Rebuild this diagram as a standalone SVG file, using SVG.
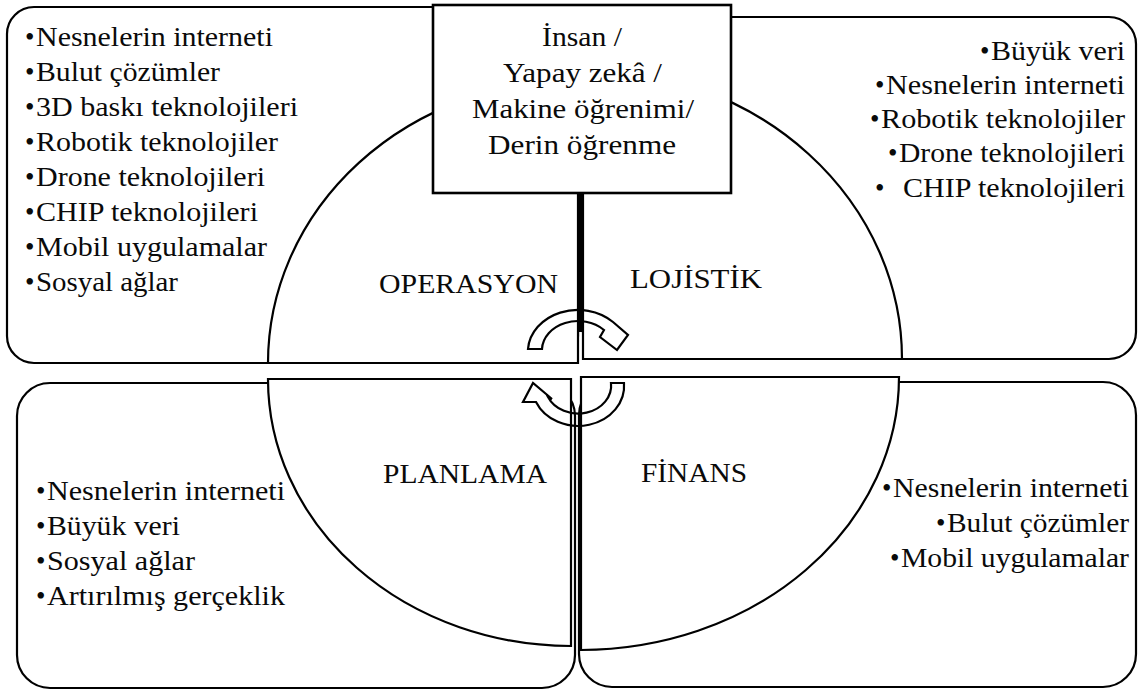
<svg xmlns="http://www.w3.org/2000/svg" width="1141" height="691" viewBox="0 0 1141 691">
<style>
.box{fill:#fff;stroke:#000;stroke-width:2.2}
.q{fill:#fff;stroke:#000;stroke-width:2.2}
text{font-family:"Liberation Serif","Times New Roman",serif;fill:#0a0a0a}
.t text,text.t{font-size:27px}
.c{font-size:28px}
.arr{fill:none;stroke:#000;stroke-width:2.2;stroke-linejoin:miter}
</style>
<rect width="1141" height="691" fill="#fff"/>
<g id="box-top-left"><rect class="box" x="7" y="7" width="571" height="356" rx="27"/></g>
<g id="box-top-right"><rect class="box" x="583" y="17" width="553" height="342" rx="27"/></g>
<g id="box-bottom-left"><rect class="box" x="17" y="383" width="558" height="305" rx="33"/></g>
<g id="box-bottom-right"><rect class="box" x="579" y="382" width="557" height="305" rx="33"/></g>
<g id="operasyon"><path class="q" d="M268,363 A310 283 0 0 1 578,80 L578,363 Z"/>
<text class="t" x="379" y="293" textLength="179" lengthAdjust="spacingAndGlyphs">OPERASYON</text></g>
<g id="lojistik"><path class="q" d="M583,359 L583,69 A319 290 0 0 1 902,359 Z"/>
<text class="t" x="630" y="288" textLength="132" lengthAdjust="spacingAndGlyphs">LOJİSTİK</text></g>
<g id="planlama"><path class="q" d="M268,379 L571,379 L571,646 A303 267 0 0 1 268,379 Z"/>
<text class="t" x="383" y="483" textLength="164" lengthAdjust="spacingAndGlyphs">PLANLAMA</text></g>
<g id="finans"><path class="q" d="M581,377 L899,377 A318 273 0 0 1 581,650 Z"/>
<text class="t" x="641" y="482" textLength="106" lengthAdjust="spacingAndGlyphs">FİNANS</text></g>
<g id="center-box"><rect x="433" y="5" width="298" height="188" fill="#fff" stroke="#000" stroke-width="2.6"/>
<text class="c" x="542" y="46" textLength="80" lengthAdjust="spacingAndGlyphs">İnsan /</text>
<text class="c" x="503" y="82" textLength="159" lengthAdjust="spacingAndGlyphs">Yapay zekâ /</text>
<text class="c" x="472" y="118" textLength="222" lengthAdjust="spacingAndGlyphs">Makine öğrenimi/</text>
<text class="c" x="488" y="154" textLength="188" lengthAdjust="spacingAndGlyphs">Derin öğrenme</text></g>
<g id="connectors">
<line x1="580.5" y1="193" x2="580.5" y2="332" stroke="#000" stroke-width="7"/>
<path class="arr" d="M528,349 A50 42 0 0 1 613,322 L628,335 L617,350 L600,337 L604,330 A36 29 0 0 0 542,349 Z"/>
<path class="arr" d="M624,383 A46 40 0 0 1 536,402 L523,402 L533,383 L552,399 L548,397 A33 28 0 0 0 611,383 Z"/>
</g>
<g id="list-top-left" class="t">
<text y="46"><tspan x="25">•</tspan><tspan x="36" textLength="237" lengthAdjust="spacingAndGlyphs">Nesnelerin interneti</tspan></text>
<text y="81"><tspan x="25">•</tspan><tspan x="36" textLength="184" lengthAdjust="spacingAndGlyphs">Bulut çözümler</tspan></text>
<text y="116"><tspan x="25">•</tspan><tspan x="36" textLength="262" lengthAdjust="spacingAndGlyphs">3D baskı teknolojileri</tspan></text>
<text y="151"><tspan x="25">•</tspan><tspan x="36" textLength="242" lengthAdjust="spacingAndGlyphs">Robotik teknolojiler</tspan></text>
<text y="186"><tspan x="25">•</tspan><tspan x="36" textLength="229" lengthAdjust="spacingAndGlyphs">Drone teknolojileri</tspan></text>
<text y="221"><tspan x="25">•</tspan><tspan x="36" textLength="222" lengthAdjust="spacingAndGlyphs">CHIP teknolojileri</tspan></text>
<text y="256"><tspan x="25">•</tspan><tspan x="36" textLength="231" lengthAdjust="spacingAndGlyphs">Mobil uygulamalar</tspan></text>
<text y="291"><tspan x="25">•</tspan><tspan x="36" textLength="142" lengthAdjust="spacingAndGlyphs">Sosyal ağlar</tspan></text>
</g>
<g id="list-top-right" class="t">
<text y="60"><tspan x="980">•</tspan><tspan x="991" textLength="134" lengthAdjust="spacingAndGlyphs">Büyük veri</tspan></text>
<text y="94"><tspan x="875">•</tspan><tspan x="886" textLength="239" lengthAdjust="spacingAndGlyphs">Nesnelerin interneti</tspan></text>
<text y="128"><tspan x="870">•</tspan><tspan x="881" textLength="244" lengthAdjust="spacingAndGlyphs">Robotik teknolojiler</tspan></text>
<text y="162"><tspan x="888">•</tspan><tspan x="899" textLength="226" lengthAdjust="spacingAndGlyphs">Drone teknolojileri</tspan></text>
<text y="197"><tspan x="875">•</tspan><tspan x="903" textLength="222" lengthAdjust="spacingAndGlyphs">CHIP teknolojileri</tspan></text>
</g>
<g id="list-bottom-left" class="t">
<text y="500"><tspan x="36">•</tspan><tspan x="47" textLength="238" lengthAdjust="spacingAndGlyphs">Nesnelerin interneti</tspan></text>
<text y="535"><tspan x="36">•</tspan><tspan x="47" textLength="133" lengthAdjust="spacingAndGlyphs">Büyük veri</tspan></text>
<text y="570"><tspan x="36">•</tspan><tspan x="47" textLength="148" lengthAdjust="spacingAndGlyphs">Sosyal ağlar</tspan></text>
<text y="605"><tspan x="36">•</tspan><tspan x="47" textLength="238" lengthAdjust="spacingAndGlyphs">Artırılmış gerçeklik</tspan></text>
</g>
<g id="list-bottom-right" class="t">
<text y="497"><tspan x="882">•</tspan><tspan x="893" textLength="236" lengthAdjust="spacingAndGlyphs">Nesnelerin interneti</tspan></text>
<text y="532"><tspan x="936">•</tspan><tspan x="947" textLength="182" lengthAdjust="spacingAndGlyphs">Bulut çözümler</tspan></text>
<text y="567"><tspan x="890">•</tspan><tspan x="901" textLength="228" lengthAdjust="spacingAndGlyphs">Mobil uygulamalar</tspan></text>
</g>
</svg>
